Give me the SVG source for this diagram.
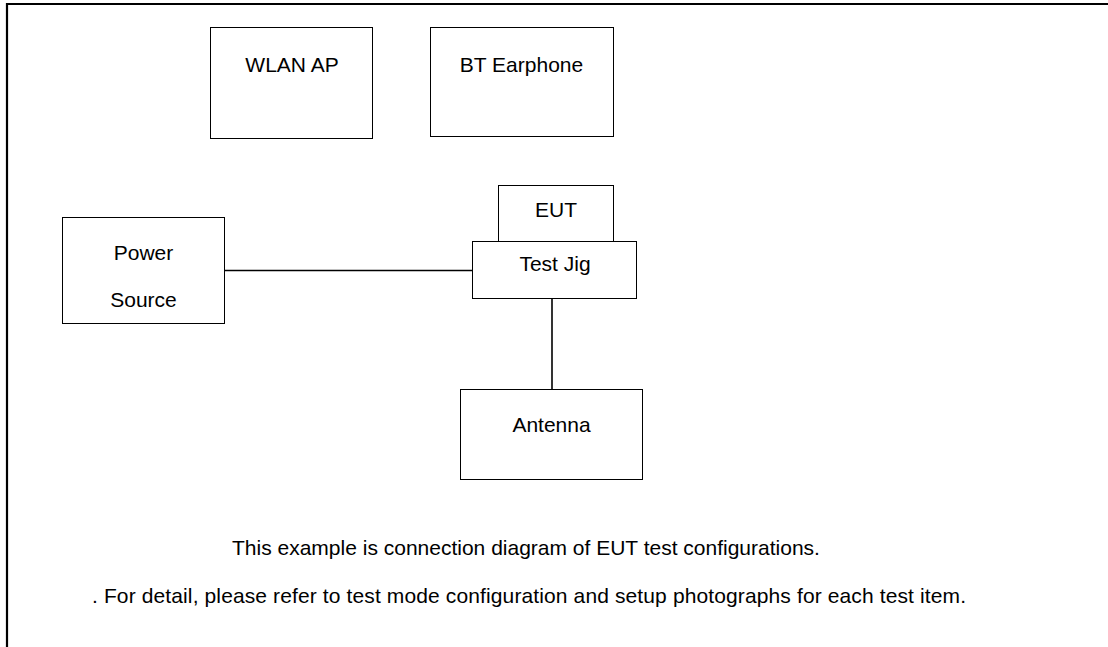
<svg xmlns="http://www.w3.org/2000/svg" width="1108" height="647" viewBox="0 0 1108 647">
<style>
.box{fill:#fff;stroke:#000;stroke-width:1}
.t{font-family:"Liberation Sans",Arial,sans-serif;font-size:21px;fill:#000;text-anchor:middle}
.n{font-family:"Liberation Sans",Arial,sans-serif;font-size:21px;fill:#000}
.c{stroke:#000;stroke-width:1.6;fill:none}
</style>
<rect width="1108" height="647" fill="#fff"/>
<path d="M7,647 V4 H1108" fill="none" stroke="#000" stroke-width="2.2"/>
<g id="connectors">
<line class="c" x1="224.5" y1="270.5" x2="472" y2="270.5"/>
<line class="c" x1="552" y1="298.5" x2="552" y2="389.5"/>
</g>
<g id="wlan"><rect class="box" x="210.5" y="27.5" width="162" height="111"/><text class="t" x="292" y="71.5">WLAN AP</text></g>
<g id="bt"><rect class="box" x="430.5" y="27.5" width="183" height="109"/><text class="t" x="521.5" y="71.5">BT Earphone</text></g>
<g id="power"><rect class="box" x="62.5" y="217.5" width="162" height="106"/><text class="t" x="143.5" y="259.5">Power</text><text class="t" x="143.5" y="307">Source</text></g>
<g id="eut"><rect class="box" x="498.5" y="185.5" width="115" height="56"/><text class="t" x="556" y="216.5">EUT</text></g>
<g id="testjig"><rect class="box" x="472.5" y="241.5" width="164" height="57"/><text class="t" x="555" y="271">Test Jig</text></g>
<g id="antenna"><rect class="box" x="460.5" y="389.5" width="182" height="90"/><text class="t" x="551.5" y="431.5">Antenna</text></g>
<g id="notes">
<text class="n" x="232" y="555">This example is connection diagram of EUT test configurations.</text>
<text class="n" x="92" y="603" textLength="874" lengthAdjust="spacing">. For detail, please refer to test mode configuration and setup photographs for each test item.</text>
</g>
</svg>
